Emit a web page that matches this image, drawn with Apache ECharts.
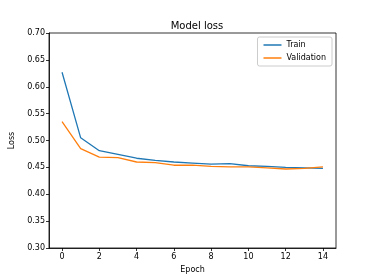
<!DOCTYPE html>
<html>
<head>
<meta charset="utf-8">
<script src="https://cdn.jsdelivr.net/npm/echarts@6/dist/echarts.min.js"></script>
<style>html,body{margin:0;padding:0;background:#fff}#c{width:374px;height:280px}</style>
</head>
<body>
<div id="c"></div>
<script>
var epochs = [0,1,2,3,4,5,6,7,8,9,10,11,12,13,14];
var trainLoss = [0.627,0.505,0.481,0.474,0.467,0.463,0.460,0.458,0.456,0.457,0.453,0.452,0.450,0.449,0.448];
var valLoss = [0.535,0.485,0.469,0.468,0.460,0.459,0.454,0.454,0.452,0.451,0.451,0.449,0.447,0.448,0.451];
var xTicks = [0,2,4,6,8,10,12,14];

var font = 'DejaVu Sans';
function pairs(ys){ return epochs.map(function(e,i){ return [e, ys[i]]; }); }

var chart = echarts.init(document.getElementById('c'), null, {renderer:'canvas'});
chart.setOption({
  animation: false,
  backgroundColor: '#fff',
  title: {
    text: 'Model loss', left: 192, top: 16, textAlign: 'center',
    textStyle: {fontFamily: font, fontSize: 10, fontWeight: 'normal', color: '#000'}
  },
  legend: {
    right: 42, top: 37, orient: 'vertical',
    data: ['Train','Validation'],
    icon: 'rect', itemWidth: 18, itemHeight: 1.5, itemGap: 5,
    padding: [4,6,4,6],
    borderColor: '#cccccc', borderWidth: 1, borderRadius: 2,
    backgroundColor: '#fff',
    textStyle: {fontFamily: font, fontSize: 8, color: '#000'}
  },
  grid: {left: 47, right: 38, top: 33, bottom: 32, show: true, borderColor: '#000', borderWidth: 0.8, backgroundColor: 'transparent'},
  xAxis: {
    type: 'value', min: -0.7, max: 14.7,
    name: 'Epoch', nameLocation: 'middle', nameGap: 18,
    nameTextStyle: {fontFamily: font, fontSize: 8, color: '#000'},
    axisLine: {show: true, onZero: false, lineStyle: {color: '#000', width: 0.8}},
    axisTick: {show: true, length: 3, customValues: xTicks, lineStyle: {color: '#000', width: 0.8}},
    axisLabel: {customValues: xTicks, fontFamily: font, fontSize: 8, color: '#000', margin: 5},
    splitLine: {show: false}
  },
  yAxis: {
    type: 'value', min: 0.30, max: 0.70, interval: 0.05,
    name: 'Loss', nameLocation: 'middle', nameGap: 33,
    nameTextStyle: {fontFamily: font, fontSize: 8, color: '#000'},
    axisLine: {show: true, onZero: false, lineStyle: {color: '#000', width: 0.8}},
    axisTick: {show: true, length: 3, lineStyle: {color: '#000', width: 0.8}},
    axisLabel: {fontFamily: font, fontSize: 8, color: '#000', margin: 4, formatter: function(v){ return v.toFixed(2); }},
    splitLine: {show: false}
  },
  series: [
    {name: 'Train', type: 'line', data: pairs(trainLoss), showSymbol: false, symbol: 'none',
     lineStyle: {color: '#1f77b4', width: 1.3}, itemStyle: {color: '#1f77b4'}},
    {name: 'Validation', type: 'line', data: pairs(valLoss), showSymbol: false, symbol: 'none',
     lineStyle: {color: '#ff7f0e', width: 1.3}, itemStyle: {color: '#ff7f0e'}}
  ]
});
</script>
</body>
</html>
